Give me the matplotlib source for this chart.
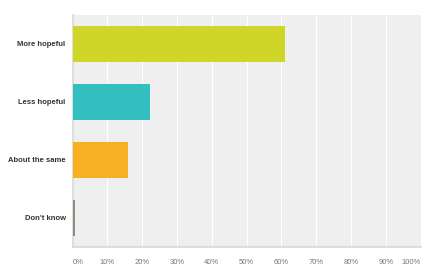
import matplotlib.pyplot as plt
import numpy as np

plt.rcParams["font.family"] = ["Liberation Sans", "DejaVu Sans"]

categories = ["More hopeful", "Less hopeful", "About the same", "Don't know"]
values = [61.1, 22.4, 15.9, 0.8]
colors = ["#d0d52a", "#33bfc0", "#f7b022", "#8a8f7e"]
xticks = list(range(0, 101, 10))

fig = plt.figure(figsize=(4.4, 2.77), dpi=100)
ax = fig.add_axes([72.5 / 440, 1 - 247 / 277, 348 / 440, 232 / 277])
ax.set_facecolor("#efefef")

y = np.arange(len(categories))
ax.barh(y, values, height=0.62, color=colors, zorder=3)
ax.set_ylim(len(categories) - 0.5, -0.5)
ax.set_xlim(0, 100)

ax.set_yticks(y)
ax.set_yticklabels(categories, fontsize=5.5, fontweight="bold", color="#333333")
ax.set_xticks(xticks)
ax.set_xticklabels([f"{v}%" for v in xticks], fontsize=5.5, color="#777777")
ax.tick_params(axis="both", length=0)
ax.tick_params(axis="y", pad=5)
ax.tick_params(axis="x", pad=9)
xlabels = ax.get_xticklabels()
xlabels[0].set_ha("left")
xlabels[-1].set_ha("right")

ax.grid(axis="x", color="white", linewidth=0.8, zorder=1)
for side in ["top", "right"]:
    ax.spines[side].set_visible(False)
ax.spines["left"].set_color("#d8d8d8")
ax.spines["bottom"].set_color("#d8d8d8")
ax.spines["left"].set_linewidth(1.2)
ax.spines["bottom"].set_linewidth(1.2)

fig.savefig("out.png", dpi=100)
